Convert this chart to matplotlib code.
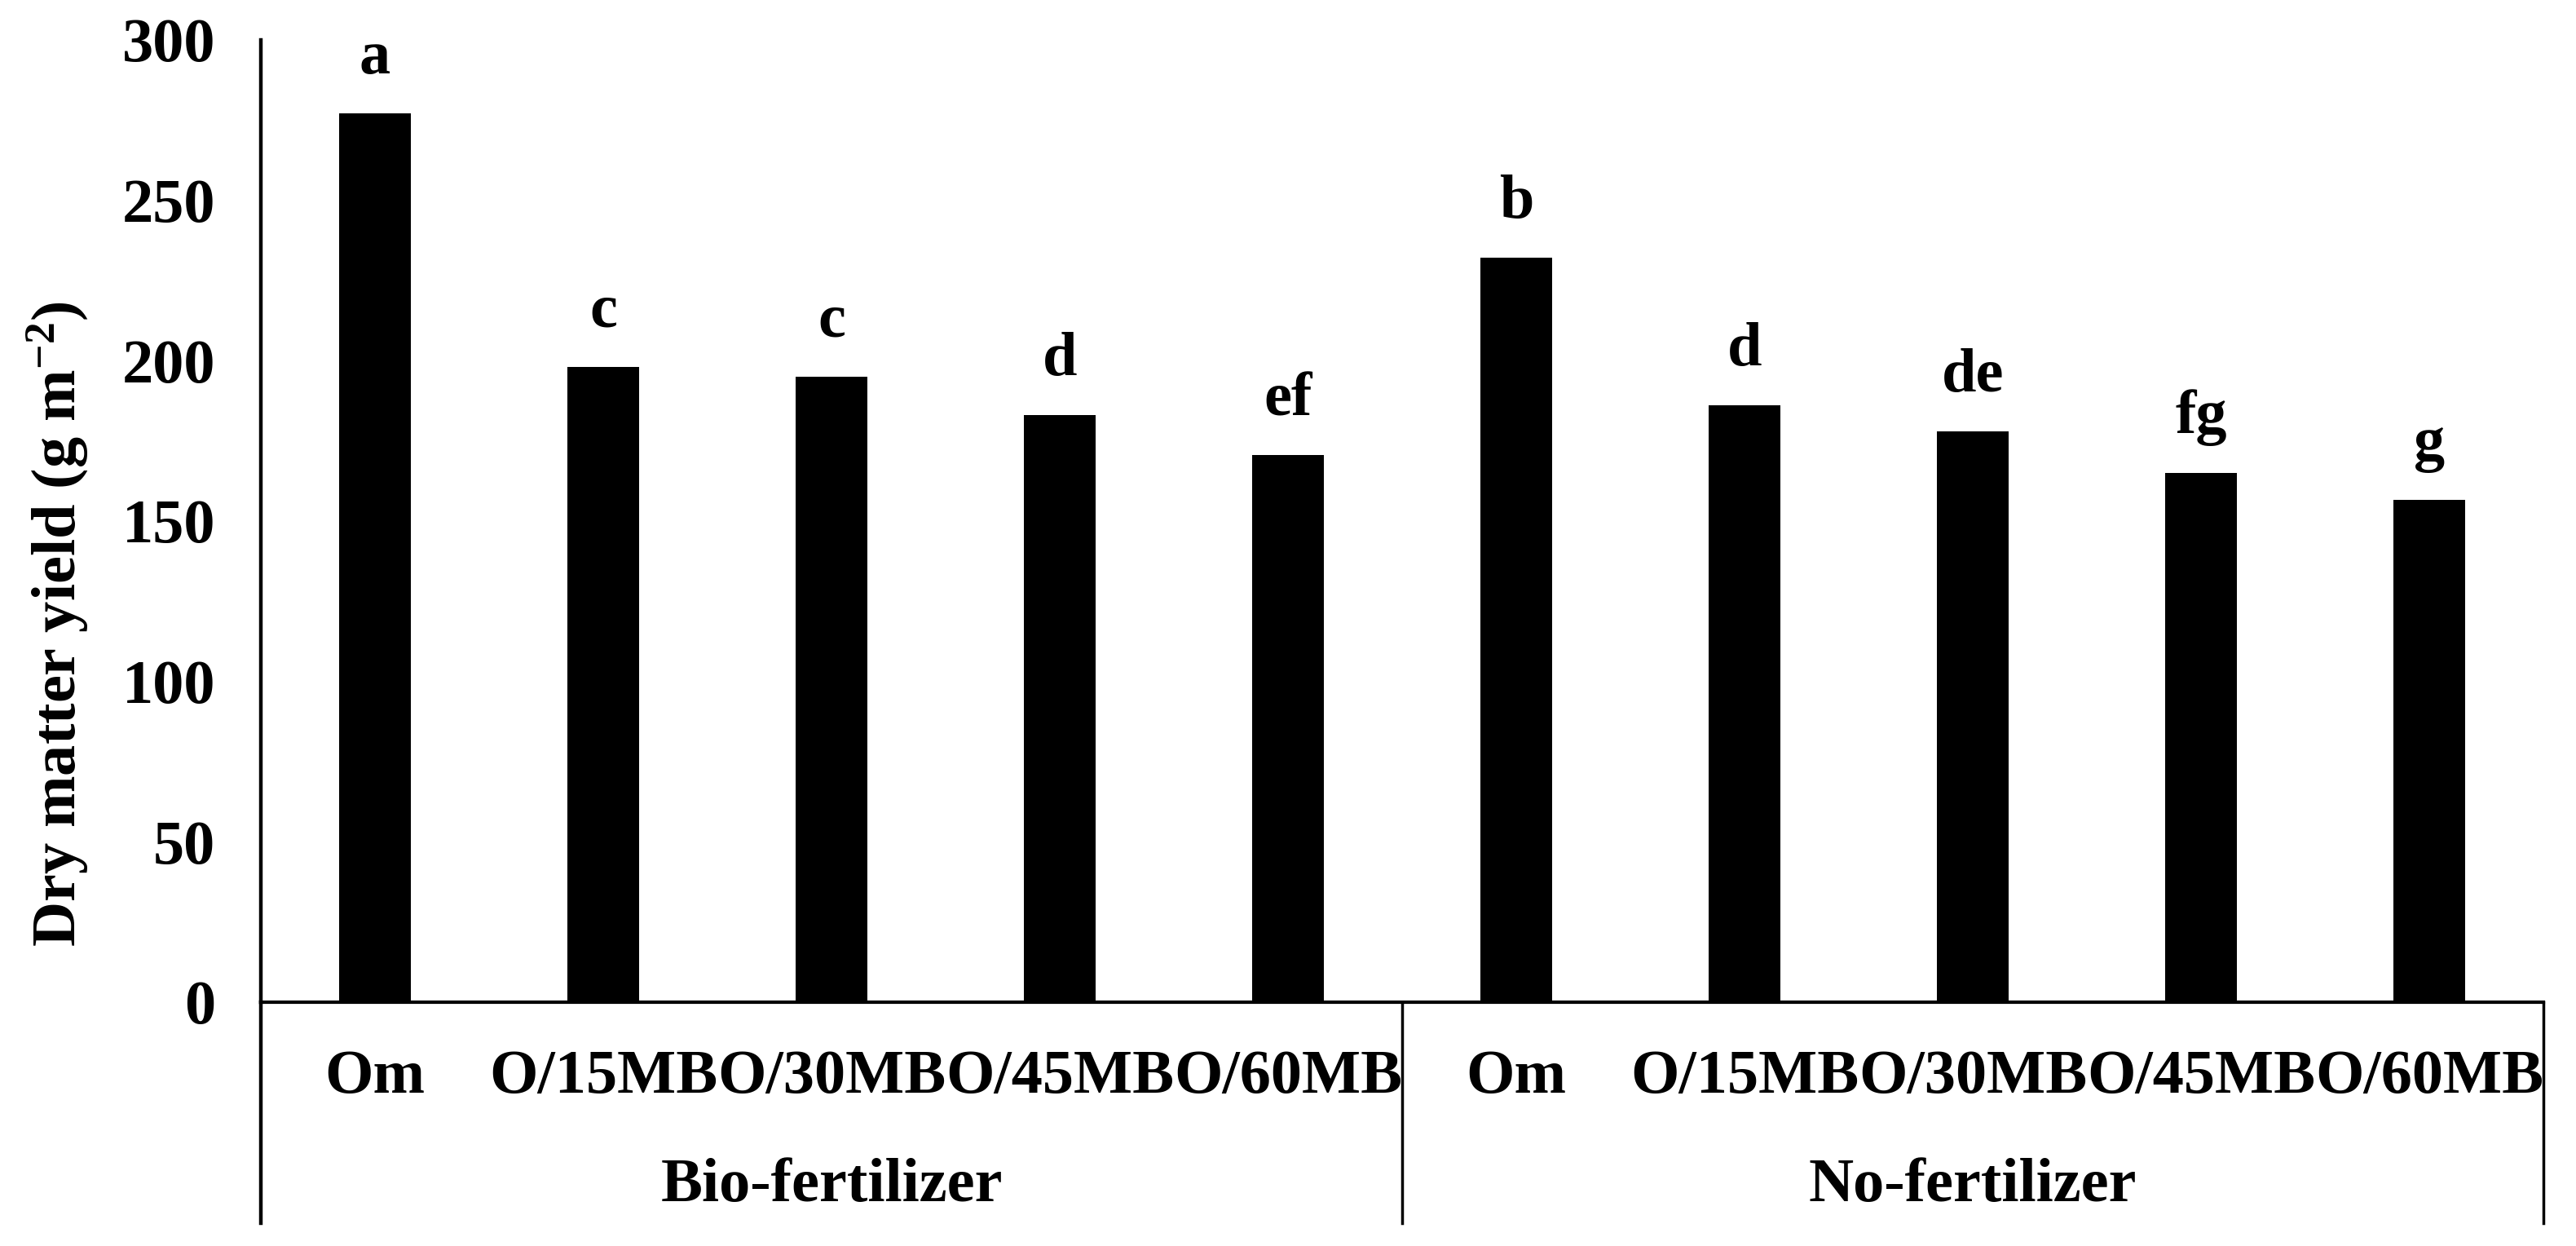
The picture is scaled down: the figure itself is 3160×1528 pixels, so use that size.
import matplotlib
matplotlib.use("Agg")
import matplotlib.pyplot as plt

categories = ["Om", "O/15MB", "O/30MB", "O/45MB", "O/60MB",
              "Om", "O/15MB", "O/30MB", "O/45MB", "O/60MB"]
groups = ["Bio-fertilizer", "No-fertilizer"]
values = [277, 198, 195, 183, 170.5, 232, 186, 178, 165, 156.5]
letters = ["a", "c", "c", "d", "ef", "b", "d", "de", "fg", "g"]
yticks = [0, 50, 100, 150, 200, 250, 300]

plt.rcParams['font.family'] = ['Liberation Serif', 'DejaVu Serif']
plt.rcParams['font.weight'] = 'bold'
plt.rcParams['mathtext.fontset'] = 'custom'
plt.rcParams['mathtext.rm'] = 'Liberation Serif:bold'
plt.rcParams['mathtext.bf'] = 'Liberation Serif:bold'
plt.rcParams['mathtext.it'] = 'Liberation Serif:bold'
FS = 55

fig = plt.figure(figsize=(31.6, 15.28), dpi=100)
ax = fig.add_axes([320/3160, 1 - 1229/1528, 2800/3160, 1180/1528])

x = list(range(len(values)))
ax.bar(x, values, width=0.315, color='black')
ax.set_xlim(-0.5, len(values) - 0.5)
ax.set_ylim(0, 300)
ax.set_yticks(yticks)
ax.set_yticklabels([str(t) for t in yticks], fontsize=FS, fontweight='bold')
ax.tick_params(axis='y', length=0, pad=40)
ax.set_xticks(x)
ax.set_xticklabels(categories, fontsize=FS, fontweight='bold')
ax.tick_params(axis='x', length=0, pad=42)

for s in ['top', 'right']:
    ax.spines[s].set_visible(False)
ax.spines['left'].set_linewidth(3.2)
ax.spines['bottom'].set_linewidth(3.0)

for xi, v, l in zip(x, values, letters):
    ax.annotate(l, (xi, v), xytext=(0, 24), textcoords='offset points',
                ha='center', va='bottom', fontsize=FS, fontweight='bold')

trans = ax.get_xaxis_transform()
ybot = (1229 - 1500) / 1180
ax.plot([-0.5, -0.5], [0, ybot], transform=trans, color='black', lw=3.2, clip_on=False)
ax.plot([4.5, 4.5], [0, ybot], transform=trans, color='black', lw=2.5, clip_on=False)
ax.plot([9.5, 9.5], [0, ybot], transform=trans, color='black', lw=2.5, clip_on=False)

ygrp = (1229 - 1455) / 1180
ax.text(2, ygrp, groups[0], transform=trans, ha='center', va='center', fontsize=FS, fontweight='bold')
ax.text(7, ygrp, groups[1], transform=trans, ha='center', va='center', fontsize=FS, fontweight='bold')

fig.text(70/3160, 1 - 765/1528, r"Dry matter yield (g m$^{\mathrm{-2}}$)", rotation=90,
         ha='center', va='center', fontsize=FS, fontweight='bold')

fig.savefig("out.png", dpi=100)
